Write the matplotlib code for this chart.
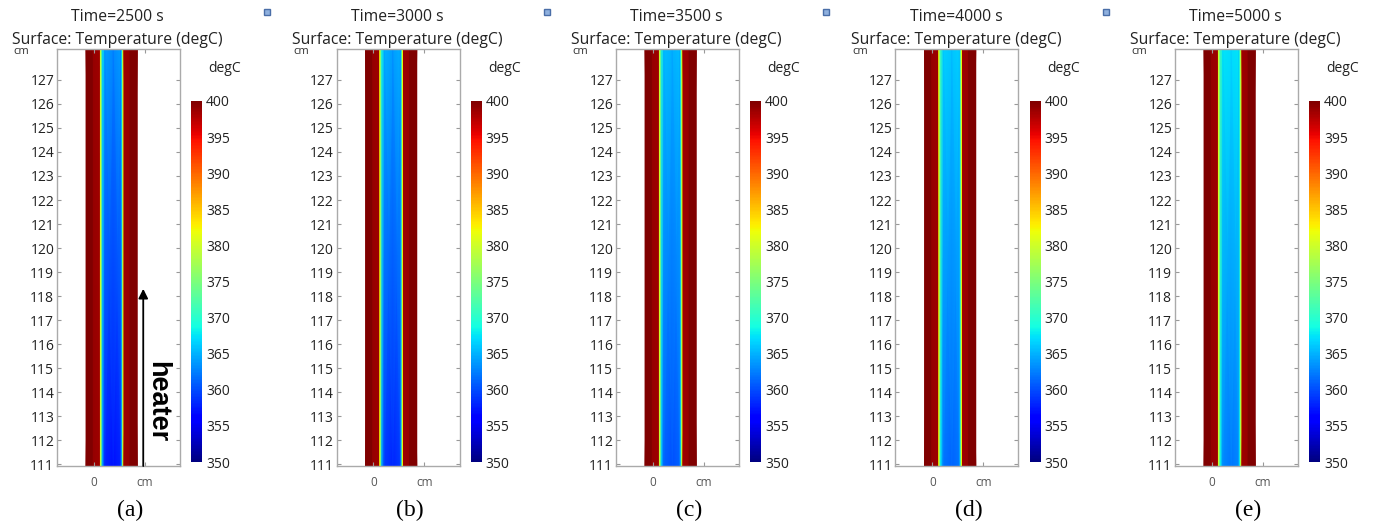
import matplotlib.pyplot as plt
import numpy as np

plt.rcParams['font.family'] = ['Open Sans', 'DejaVu Sans']

times = [2500, 3000, 3500, 4000, 5000]
panel_labels = ['(a)', '(b)', '(c)', '(d)', '(e)']
y_ticks = list(range(111, 128))
cbar_ticks = [350, 355, 360, 365, 370, 375, 380, 385, 390, 395, 400]

# cross-section nodes (cm) and heights (cm) where temperature was read
x_nodes = [-0.33, -0.04, -0.03, 0.245, 0.27, 0.30, 0.35, 0.45, 0.80, 1.12, 1.17, 1.20, 1.225, 1.25, 1.50, 1.51, 1.80]
y_rows = [110.9, 128.3]

# temperature (degC) per panel, rows bottom / top
temp_a = [[402, 402, 399, 398.5, 382, 376, 364, 358, 357, 358, 364, 376, 382, 398.5, 399, 402, 402],
          [402, 402, 399, 398.5, 382, 377, 368, 364, 363, 364, 368, 377, 382, 398.5, 399, 402, 402]]
temp_b = [[402, 402, 399, 398.5, 382, 376, 364, 359, 358, 359, 364, 376, 382, 398.5, 399, 402, 402],
          [402, 402, 399, 398.5, 382, 377, 369, 365, 364, 365, 369, 377, 382, 398.5, 399, 402, 402]]
temp_c = [[402, 402, 399, 398.5, 382, 376, 366, 361, 360, 361, 366, 376, 382, 398.5, 399, 402, 402],
          [402, 402, 399, 398.5, 382, 377, 370, 365.5, 365, 365.5, 370, 377, 382, 398.5, 399, 402, 402]]
temp_d = [[402, 402, 399, 398.5, 382, 376, 367, 362, 361, 362, 367, 376, 382, 398.5, 399, 402, 402],
          [402, 402, 399, 398.5, 382, 378, 371, 366.5, 366, 366.5, 371, 378, 382, 398.5, 399, 402, 402]]
temp_e = [[402, 402, 399, 398.5, 382, 377, 368, 363, 362, 363, 368, 377, 382, 398.5, 399, 402, 402],
          [402, 402, 399, 398.5, 382, 378, 372, 367.5, 367, 367.5, 372, 378, 382, 398.5, 399, 402, 402]]
fields = [temp_a, temp_b, temp_c, temp_d, temp_e]

W, H = 1375, 529
fig = plt.figure(figsize=(W / 100, H / 100), dpi=100)
X, Y = np.meshgrid(x_nodes, y_rows)

for i in range(len(times)):
    off = i * 279.5
    ax = fig.add_axes([(57 + off) / W, 1 - 466 / H, 123 / W, 417 / H])
    m = ax.pcolormesh(X, Y, np.array(fields[i]), cmap='jet', vmin=350, vmax=400,
                      shading='gouraud', antialiased=False)
    ax.set_xlim(-1.54, 3.58)
    ax.set_ylim(110.92, 128.29)
    ax.set_yticks(y_ticks)
    ax.set_yticklabels([str(v) for v in y_ticks])
    ax.set_xticks([0, 2.12])
    ax.set_xticklabels(['0', 'cm'])
    ax.tick_params(axis='y', direction='in', length=3, color='#999999',
                   labelsize=10, labelcolor='#222222', right=True, pad=2)
    ax.tick_params(axis='x', direction='in', length=3, color='#999999',
                   labelsize=8.5, labelcolor='#555555', top=True, pad=7)
    for s in ax.spines.values():
        s.set_color('#aaaaaa')
        s.set_linewidth(1.0)
    ax.text(-0.29, 0.993, 'cm', transform=ax.transAxes, fontsize=8,
            color='#333333', ha='center', va='center')

    cx = (117.5 + off) / W
    fig.text(cx, 1 - 17 / H, 'Time=%d s' % times[i], fontsize=11.3,
             ha='center', va='center', color='#222222')
    fig.text(cx, 1 - 40 / H, 'Surface: Temperature (degC)', fontsize=11.3,
             ha='center', va='center', color='#222222')

    cax = fig.add_axes([(191 + off) / W, 1 - 462 / H, 11 / W, 361 / H])
    cb = fig.colorbar(m, cax=cax, ticks=cbar_ticks)
    cb.outline.set_visible(False)
    cax.tick_params(length=0, labelsize=10, labelcolor='#222222', pad=3)
    fig.text((225 + off) / W, 1 - 68 / H, 'degC', fontsize=10,
             ha='center', va='center', color='#222222')

    # small toolbar icon
    fig.add_artist(plt.Line2D([(267 + off) / W], [1 - 12 / H], marker='s',
                              markersize=4.5, color='#8fb0de', mec='#4a6ea8'))

    fig.text((130 + off) / W, 1 - 510 / H, panel_labels[i], fontsize=17,
             family=['Liberation Serif', 'DejaVu Serif'], ha='center', va='center')

    if i == 0:
        ax.annotate('', xy=(2.05, 118.3), xytext=(2.05, 110.92),
                    arrowprops=dict(arrowstyle='-|>', color='black', lw=1.3,
                                    mutation_scale=14, shrinkA=0, shrinkB=0))
        ax.text(2.63, 113.6, 'heater', rotation=-90, fontsize=19.5, fontweight='bold',
                family=['Liberation Sans', 'DejaVu Sans'],
                ha='center', va='center')

fig.savefig('out.png', dpi=100)
